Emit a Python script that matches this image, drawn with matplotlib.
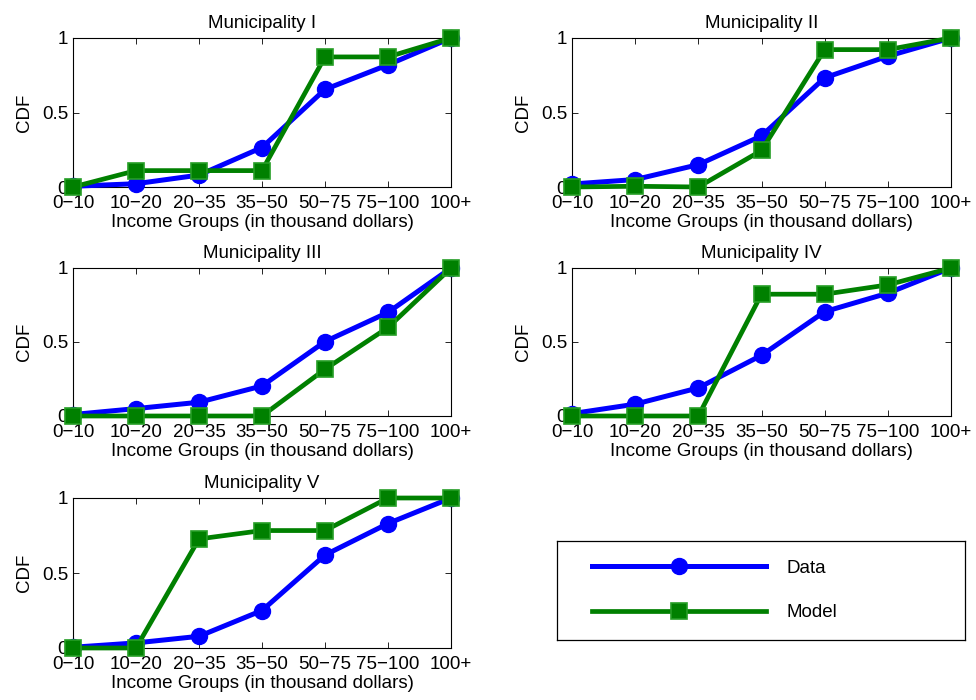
import numpy as np
import matplotlib
matplotlib.use('Agg')
import matplotlib.pyplot as plt

plt.rcParams['font.family'] = ['Liberation Sans', 'DejaVu Sans']

income_groups = ['0\u221210', '10\u221220', '20\u221235', '35\u221250',
                 '50\u221275', '75\u2212100', '100+']
titles = ['Municipality I', 'Municipality II', 'Municipality III',
          'Municipality IV', 'Municipality V']

data_I = [0.005, 0.022, 0.08, 0.265, 0.655, 0.82, 1.0]
model_I = [0.0, 0.11, 0.11, 0.11, 0.873, 0.873, 1.0]
data_II = [0.02, 0.05, 0.15, 0.343, 0.733, 0.878, 1.0]
model_II = [0.0, 0.005, 0.0, 0.245, 0.922, 0.922, 1.0]
data_III = [0.01, 0.05, 0.093, 0.203, 0.503, 0.70, 1.0]
model_III = [0.0, 0.0, 0.0, 0.0, 0.316, 0.598, 1.0]
data_IV = [0.016, 0.08, 0.19, 0.41, 0.705, 0.83, 1.0]
model_IV = [0.0, 0.0, 0.0, 0.823, 0.823, 0.886, 1.0]
data_V = [0.005, 0.034, 0.078, 0.25, 0.62, 0.83, 1.0]
model_V = [0.0, 0.0, 0.727, 0.783, 0.783, 1.0, 1.0]

data_series = [data_I, data_II, data_III, data_IV, data_V]
model_series = [model_I, model_II, model_III, model_IV, model_V]

W, H = 976, 700
fig = plt.figure(figsize=(W / 100, H / 100), dpi=100)

# axes boxes in pixels: left, top, right, bottom
boxes = [(73, 38, 451, 187), (572, 38, 951, 187),
         (73, 268, 451, 416), (572, 268, 951, 416),
         (73, 498, 451, 648)]

x = np.arange(len(income_groups))
blue = (0, 0, 1)
green = (0, 0.5, 0)
fs = 13.5
lines = []
for i, (l, t, r, b) in enumerate(boxes):
  ax = fig.add_axes([l / W, 1 - b / H, (r - l) / W, (b - t) / H])
  ld, = ax.plot(x, data_series[i], '-o', color=blue, lw=3.6, ms=11.5,
                mfc=blue, mec=blue, clip_on=False, zorder=3, label='Data')
  lm, = ax.plot(x, model_series[i], '-s', color=green, lw=3.4, ms=11,
                mfc=green, mec=(0.15, 0.62, 0.15), mew=1.2, clip_on=False,
                zorder=4, label='Model')
  lines = [ld, lm]
  ax.set_xlim(0, 6)
  ax.set_ylim(0, 1)
  ax.set_xticks(x)
  ax.set_xticklabels(income_groups)
  ax.set_yticks([0, 0.5, 1])
  ax.set_yticklabels(['0', '0.5', '1'])
  ax.tick_params(direction='in', top=True, right=True, length=4,
                 width=0.6, labelsize=fs)
  ax.tick_params(axis='x', pad=5.5)
  ax.tick_params(axis='y', pad=3.5)
  for s in ax.spines.values():
    s.set_linewidth(0.8)
  ax.set_xlabel('Income Groups (in thousand dollars)', fontsize=fs,
                labelpad=1.5)
  ax.set_ylabel('CDF', fontsize=fs, labelpad=6.5)
  ax.set_title(titles[i], fontsize=fs, pad=7.5)

# legend sits in its own framed box
lax = fig.add_axes([557 / W, 1 - 640 / H, 408 / W, 99 / H])
lax.set_xticks([])
lax.set_yticks([])
for s in lax.spines.values():
  s.set_linewidth(0.9)
lax.legend(lines, ['Data', 'Model'], loc='center left',
           bbox_to_anchor=(35 / 408, 0.5), frameon=False, numpoints=1,
           fontsize=fs, handlelength=9.3, handletextpad=1.1,
           labelspacing=1.45, borderpad=0, borderaxespad=0)

fig.savefig('out.png', dpi=100)
